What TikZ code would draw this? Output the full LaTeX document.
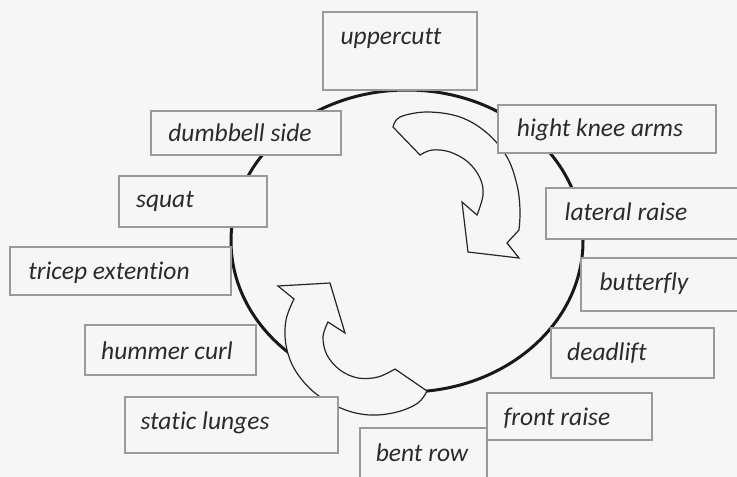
\documentclass[tikz,border=0pt]{standalone}
\usepackage{fontspec}
\setmainfont{Carlito}[Ligatures=NoCommon]
\definecolor{txt}{HTML}{2B2B2B}
\definecolor{boxline}{HTML}{9A9A9A}
\definecolor{bg}{HTML}{F6F6F6}
\begin{document}
\begin{tikzpicture}[x=1pt,y=-1pt,
  exbox/.style={draw=boxline,line width=1.1pt,fill=bg},
  lbl/.style={text=txt,font=\fontsize{25.5}{29}\selectfont\itshape,inner sep=0pt},
  blockarrow/.style={draw=black!85,line width=1.2pt,fill=bg,line join=miter},
  ring/.style={draw=black!90,line width=3pt}]
\useasboundingbox (0,0) rectangle (737,477);
\fill[bg] (0,0) rectangle (737,477);
% ring
\draw[ring] (407,241) ellipse [x radius=176, y radius=151];
% top arrow (clockwise)
\draw[blockarrow] (393,127)
  -- plot[smooth,tension=0.6] coordinates {(393,127) (400,117) (427,112) (460,117) (487,133) (507,157) (517,185) (520,210) (519,230)}
  -- (507,243) -- (519,258) -- (468,252) -- (462,202) -- (477,215)
  -- plot[smooth,tension=0.6] coordinates {(477,215) (483,195) (480,178) (468,162) (450,152) (432,150) (420,155)}
  -- cycle;
% bottom arrow (clockwise)
\draw[blockarrow] (278,286) -- (330,283) -- (345,333) -- (328,322)
  -- plot[smooth,tension=0.6] coordinates {(328,322) (323,337) (327,355) (340,370) (358,378) (378,377) (395,369)}
  -- (427,391)
  -- plot[smooth,tension=0.6] coordinates {(427,391) (418,403) (397,412) (370,415) (343,409) (315,393) (295,370) (286,345) (286,320) (294,299)}
  -- cycle;
% boxes
\draw[exbox] (323,12) rectangle (477,90);
\node[lbl] (uppercutt) at (391,38) {uppercutt};
\draw[exbox] (151,111) rectangle (341,155);
\node[lbl] (dumbbell) at (240,133) {dumbbell side};
\draw[exbox] (498,105) rectangle (716,153);
\node[lbl] (knee) at (600,130) {hight knee arms};
\draw[exbox] (119,176) rectangle (267,227);
\node[lbl] (squat) at (165,201) {squat};
\draw[exbox] (546,188) rectangle (745,239);
\node[lbl] (lateral) at (626,212) {lateral raise};
\draw[exbox] (10,247) rectangle (231,295);
\node[lbl] (tricep) at (109,273) {tricep extention};
\draw[exbox] (581,258) rectangle (745,311);
\node[lbl] (butterfly) at (644,284) {butterfly};
\draw[exbox] (85,325) rectangle (256,375);
\node[lbl] (hummer) at (167,351) {hummer curl};
\draw[exbox] (551,328) rectangle (714,378);
\node[lbl] (deadlift) at (607,353) {deadlift};
\draw[exbox] (125,397) rectangle (338,453);
\node[lbl] (lunges) at (205,423) {static lunges};
\draw[exbox] (360,428) rectangle (487,490);
\node[lbl] (bentrow) at (422,453) {bent row};
\draw[exbox] (487,393) rectangle (652,440);
\node[lbl] (front) at (557,418) {front raise};
\end{tikzpicture}
\end{document}
